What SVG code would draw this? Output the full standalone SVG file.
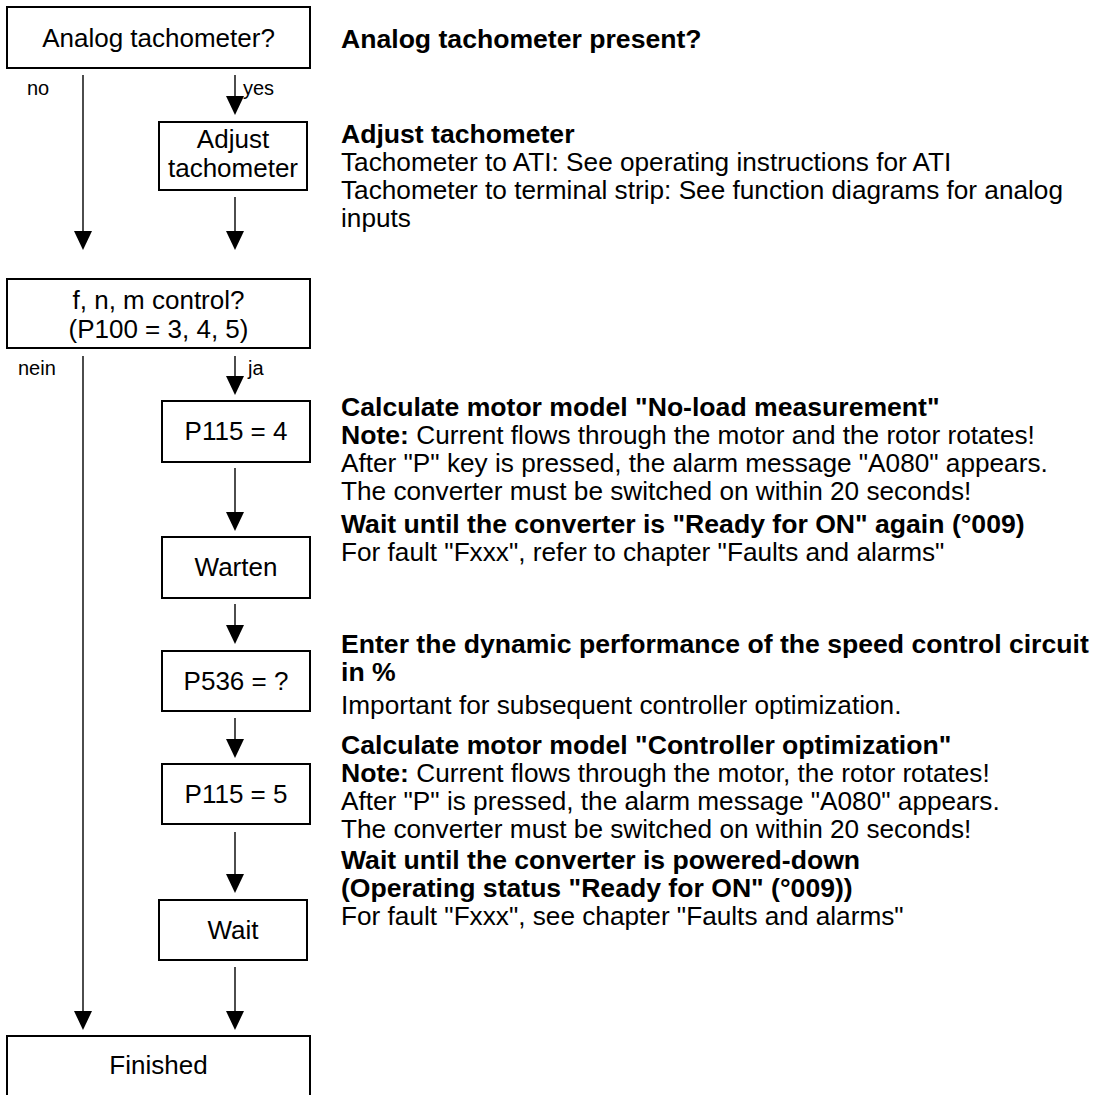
<svg xmlns="http://www.w3.org/2000/svg" width="1101" height="1095" viewBox="0 0 1101 1095">
<style>
.box{fill:#fff;stroke:#000;stroke-width:2}
.bt{font-family:"Liberation Sans",Arial,sans-serif;font-size:26px;fill:#000;text-anchor:middle}
.tx{font-family:"Liberation Sans",Arial,sans-serif;font-size:26.2px;fill:#000}
.b{font-weight:bold;font-size:26.6px}
.lb{font-family:"Liberation Sans",Arial,sans-serif;font-size:20px;fill:#000}
.ln{fill:none;stroke:#000;stroke-width:1.4}
</style>
<rect width="1101" height="1095" fill="#fff"/>

<g id="connectors">
<line class="ln" x1="83" y1="75" x2="83" y2="232"/>
<path d="M74,231 L92,231 L83,250 Z"/>
<line class="ln" x1="83" y1="356" x2="83" y2="1012"/>
<path d="M74,1011 L92,1011 L83,1030 Z"/>
<line class="ln" x1="235" y1="75" x2="235" y2="97"/>
<path d="M226,96 L244,96 L235,115 Z"/>
<line class="ln" x1="235" y1="197" x2="235" y2="232"/>
<path d="M226,231 L244,231 L235,250 Z"/>
<line class="ln" x1="235" y1="356" x2="235" y2="377"/>
<path d="M226,376 L244,376 L235,395 Z"/>
<line class="ln" x1="235" y1="468" x2="235" y2="513"/>
<path d="M226,512 L244,512 L235,531 Z"/>
<line class="ln" x1="235" y1="604" x2="235" y2="626"/>
<path d="M226,625 L244,625 L235,644 Z"/>
<line class="ln" x1="235" y1="718" x2="235" y2="740"/>
<path d="M226,739 L244,739 L235,758 Z"/>
<line class="ln" x1="235" y1="832" x2="235" y2="875"/>
<path d="M226,874 L244,874 L235,893 Z"/>
<line class="ln" x1="235" y1="967" x2="235" y2="1012"/>
<path d="M226,1011 L244,1011 L235,1030 Z"/>
<text class="lb" x="27" y="95">no</text>
<text class="lb" x="243" y="95">yes</text>
<text class="lb" x="18" y="375">nein</text>
<text class="lb" x="248" y="375">ja</text>
</g>

<g id="n-analog">
<rect class="box" x="7" y="7" width="303" height="61"/>
<text class="bt" x="158.5" y="47">Analog tachometer?</text>
</g>
<g id="n-adjust">
<rect class="box" x="159" y="122" width="148" height="68"/>
<text class="bt" x="233" y="148">Adjust</text>
<text class="bt" x="233" y="177">tachometer</text>
</g>
<g id="n-fnm">
<rect class="box" x="7" y="279" width="303" height="69"/>
<text class="bt" x="158.5" y="309">f, n, m control?</text>
<text class="bt" x="158.5" y="338">(P100 = 3, 4, 5)</text>
</g>
<g id="n-p115-4">
<rect class="box" x="162" y="401" width="148" height="61"/>
<text class="bt" x="236" y="440">P115 = 4</text>
</g>
<g id="n-warten">
<rect class="box" x="162" y="537" width="148" height="61"/>
<text class="bt" x="236" y="576">Warten</text>
</g>
<g id="n-p536">
<rect class="box" x="162" y="651" width="148" height="60"/>
<text class="bt" x="236" y="690">P536 = ?</text>
</g>
<g id="n-p115-5">
<rect class="box" x="162" y="764" width="148" height="60"/>
<text class="bt" x="236" y="803">P115 = 5</text>
</g>
<g id="n-wait">
<rect class="box" x="159" y="900" width="148" height="60"/>
<text class="bt" x="233" y="939">Wait</text>
</g>
<g id="n-finished">
<rect class="box" x="7" y="1036" width="303" height="80"/>
<text class="bt" x="158.5" y="1074">Finished</text>
</g>

<g id="descriptions">
<text class="tx b" x="341" y="48">Analog tachometer present?</text>

<text class="tx b" x="341" y="143">Adjust tachometer</text>
<text class="tx" x="341" y="171">Tachometer to ATI: See operating instructions for ATI</text>
<text class="tx" x="341" y="199">Tachometer to terminal strip: See function diagrams for analog</text>
<text class="tx" x="341" y="227">inputs</text>

<text class="tx b" x="341" y="416">Calculate motor model "No-load measurement"</text>
<text class="tx" x="341" y="444"><tspan class="b">Note:</tspan> Current flows through the motor and the rotor rotates!</text>
<text class="tx" x="341" y="472">After "P" key is pressed, the alarm message "A080" appears.</text>
<text class="tx" x="341" y="500">The converter must be switched on within 20 seconds!</text>

<text class="tx b" x="341" y="533">Wait until the converter is "Ready for ON" again (°009)</text>
<text class="tx" x="341" y="561">For fault "Fxxx", refer to chapter "Faults and alarms"</text>

<text class="tx b" x="341" y="653">Enter the dynamic performance of the speed control circuit</text>
<text class="tx b" x="341" y="681">in %</text>
<text class="tx" x="341" y="714">Important for subsequent controller optimization.</text>

<text class="tx b" x="341" y="754">Calculate motor model "Controller optimization"</text>
<text class="tx" x="341" y="782"><tspan class="b">Note:</tspan> Current flows through the motor, the rotor rotates!</text>
<text class="tx" x="341" y="810">After "P" is pressed, the alarm message "A080" appears.</text>
<text class="tx" x="341" y="838">The converter must be switched on within 20 seconds!</text>

<text class="tx b" x="341" y="869">Wait until the converter is powered-down</text>
<text class="tx b" x="341" y="897">(Operating status "Ready for ON" (°009))</text>
<text class="tx" x="341" y="925">For fault "Fxxx", see chapter "Faults and alarms"</text>
</g>
</svg>
